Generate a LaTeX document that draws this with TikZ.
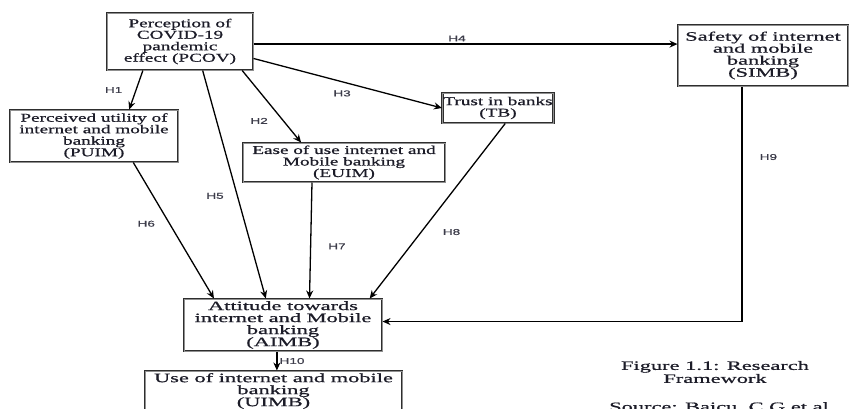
\documentclass[tikz,border=0pt]{standalone}
\usepackage{fontspec}
\usepackage{xcolor}
\usepackage{tikz}
\usetikzlibrary{positioning,arrows.meta}
\newfontfamily\boxfont[FakeStretch=1.6,FakeBold=0.8]{Liberation Serif}
\newfontfamily\bigboxfont[FakeStretch=1.75,FakeBold=0.8]{Liberation Serif}
\newfontfamily\hypfont[FakeStretch=1.6,FakeBold=0.5]{Liberation Sans}
\definecolor{FWLine}{HTML}{2E2E2E}
\definecolor{FWInner}{HTML}{909090}
\definecolor{FWText}{HTML}{1C1C28}
\definecolor{FWLabel}{HTML}{3C3C4A}

\tikzset{
  construct/.style={draw=FWLine,line width=1pt,double=FWInner,double distance=0.6pt,fill=white,text=FWText,align=center,inner sep=1pt,font=\boxfont\fontsize{12}{11.5}\selectfont},
  bigconstruct/.style={construct,font=\bigboxfont\fontsize{12.8}{12}\selectfont},
  hyp/.style={-{Stealth[length=8pt,width=7pt]},line width=1.3pt,black},
  hlabel/.style={font=\hypfont\fontsize{8.5}{9}\selectfont,text=FWLabel,inner sep=1pt},
  caption/.style={text=FWText,align=center,inner sep=0pt,font=\bigboxfont\fontsize{12.8}{13}\selectfont}
}

\begin{document}
\begin{tikzpicture}[x=1pt,y=-1pt]
\useasboundingbox (0,0) rectangle (850,408);
\clip (0,0) rectangle (850,408);
\node[construct,minimum width=146,minimum height=57] (pcov) at (180,41.5) {Perception of\\COVID-19\\pandemic\\effect (PCOV)};
\node[construct,minimum width=168,minimum height=52] (puim) at (94,136) {Perceived utility of\\internet and mobile\\banking\\(PUIM)};
\node[construct,minimum width=202,minimum height=39] (euim) at (344,162.5) {Ease of use internet and\\Mobile banking\\(EUIM)};
\node[construct,minimum width=110,minimum height=30] (tb) at (498,108) {Trust in banks\\(TB)};
\node[bigconstruct,minimum width=170,minimum height=61] (simb) at (763,55.5) {Safety of internet\\and mobile\\banking\\(SIMB)};
\node[bigconstruct,minimum width=198,minimum height=52] (aimb) at (283,325) {Attitude towards\\internet and Mobile\\banking\\(AIMB)};
\node[bigconstruct,minimum width=257,minimum height=40] (uimb) at (273.5,391) {Use of internet and mobile\\banking\\(UIMB)};
\node[caption] (fig) at (715,372) {Figure 1.1: Research\\Framework};
\node[caption,anchor=base] (src) at (719,411) {Source: Baicu, C.G et al};
\draw[hyp] (pcov.-142) -- node[hlabel,left=12pt] {H1} (puim.37);
\draw[hyp] (pcov.-25) -- node[hlabel,pos=0.7,left=14pt] {H2} (euim.155);
\draw[hyp] (pcov.-13) -- node[hlabel,pos=0.47,below=7pt] {H3} (tb.west);
\draw[hyp] (pcov.-2) -- node[hlabel,pos=0.48,above=1pt] {H4} (pcov.-2 -| simb.west);
\draw[hyp] (pcov.-52) -- node[hlabel,pos=0.55,left=12pt] {H5} (aimb.123);
\draw[hyp] (puim.-34) -- node[hlabel,pos=0.45,left=13pt] {H6} (aimb.159);
\draw[hyp] (euim.-148) -- node[hlabel,pos=0.55,right=16pt] {H7} (aimb.45);
\draw[hyp] (tb.-65) -- node[hlabel,pos=0.62,right=20pt] {H8} (aimb.17);
\draw[hyp] (simb.-124) |- node[hlabel,pos=0.15,right=16pt] {H9} (aimb.2);
\draw[hyp] (aimb.-103) -- node[hlabel,right=1pt] {H10} (aimb.-103 |- uimb.north);
\end{tikzpicture}
\end{document}
